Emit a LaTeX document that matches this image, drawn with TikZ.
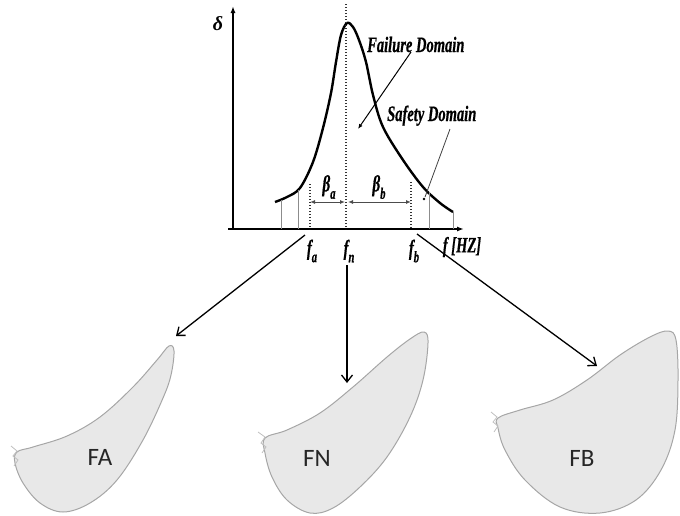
\documentclass[tikz,border=0pt]{standalone}
\usepackage{fontspec}
\setmainfont{Liberation Serif}
\newfontfamily\condserif[FakeStretch=0.66,BoldItalicFeatures={FakeBold=0.6}]{Liberation Serif}
\newfontfamily\bladefont{Carlito}
\usetikzlibrary{arrows.meta}
\newcommand\lowsub[1]{\raisebox{-0.32em}{\fontsize{16}{16}\selectfont #1}}

\begin{document}
\begin{tikzpicture}[x=1pt,y=-1pt,
  axis/.style={line width=2pt,-{Latex[length=7pt,width=5pt]}},
  bell/.style={line width=2.4pt,line join=round},
  guide/.style={black!45,line width=1pt},
  dotline/.style={line width=1.3pt,black!80,dash pattern=on 1.3pt off 1.7pt},
  span/.style={line width=1pt,black!70,{Latex[length=5pt,width=4pt]}-{Latex[length=5pt,width=4pt]}},
  pointer/.style={line width=1pt,-{Latex[length=5pt,width=4pt]}},
  flow/.style={line width=1.3pt,-{Straight Barb[length=7pt,width=11pt]}},
  blade/.style={fill=black!9,draw=black!35,line width=1pt},
  nose/.style={black!25,line width=0.8pt},
  lab/.style={font=\condserif\bfseries\itshape\fontsize{22}{22}\selectfont,inner sep=0pt},
  bladelab/.style={font=\bladefont\fontsize{25}{25}\selectfont,inner sep=0pt,text=black!85}
]
\useasboundingbox (0,0) rectangle (680,515);

% ---------------- axes ----------------
\coordinate (origin) at (233,229);
\coordinate (xstart) at (228,229);
\coordinate (xend) at (464,229);
\coordinate (ytop) at (233,6);
\draw[axis] (xstart) -- (xend);
\draw[axis] (origin) -- (ytop);
\node[font=\itshape\bfseries\fontsize{20}{20}\selectfont,inner sep=0pt] (delta) at (218,24) {δ};

% ---------------- response curve ----------------
\draw[bell] plot[smooth,tension=0.55] coordinates {
  (275,202) (287,197) (300,188) (313,162) (323,128) (331,93) (336,62)
  (341,35) (347,23) (353,27) (359,40) (366,62) (373,95) (383,127)
  (403,160) (423,187) (440,203) (453,212)};

% vertical guides under the curve ends
\draw[guide] (281,200) -- (281,229);
\draw[guide] (298,190) -- (298,229);
\draw[guide] (429,192) -- (429,229);
\draw[guide] (453,212) -- (453,229);

% frequency markers
\coordinate (fa-top) at (310,184);
\coordinate (fa-axis) at (310,229);
\coordinate (fn-top) at (346,4);
\coordinate (fn-axis) at (346,229);
\coordinate (fb-top) at (411,182);
\coordinate (fb-axis) at (411,229);
\draw[dotline] (fa-top) -- (fa-axis);
\draw[dotline] (fn-top) -- (fn-axis);
\draw[dotline] (fb-top) -- (fb-axis);

% spans between the markers
\coordinate (ba-l) at (310,202);
\coordinate (ba-r) at (345,202);
\coordinate (bb-l) at (348,202);
\coordinate (bb-r) at (411,202);
\draw[span] (ba-l) -- (ba-r);
\draw[span] (bb-l) -- (bb-r);
\node[lab,font=\condserif\bfseries\itshape\fontsize{23}{23}\selectfont] (beta-a) at (329,187) {β\lowsub{a}};
\node[lab,font=\condserif\bfseries\itshape\fontsize{23}{23}\selectfont] (beta-b) at (379,187) {β\lowsub{b}};

% axis labels
\node[lab] (fa) at (312,251) {f\lowsub{a}};
\node[lab] (fn) at (349,251) {f\lowsub{n}};
\node[lab] (fb) at (414,251) {f\lowsub{b}};
\node[lab] (fhz) at (462,247) {f [HZ]};

% domain annotations
\node[lab,anchor=base west] (failure) at (367,52) {Failure Domain};
\node[lab,anchor=base west] (safety) at (387,121) {Safety Domain};
\coordinate (fail-from) at (411,52);
\coordinate (fail-to) at (358,129);
\draw[pointer] (fail-from) -- (fail-to);
\coordinate (safe-from) at (450,129);
\coordinate (safe-to) at (425,197);
\draw[line width=0.8pt,black!75] (safe-from) -- (safe-to);
\fill (424,199) circle (1.3pt);

% ---------------- blade sections ----------------
\draw[blade] plot[smooth cycle,tension=0.6] coordinates {
  (17,452) (33,447) (67,436) (100,417) (133,387) (157,360) (169,346)
  (174,351) (171,375) (163,398) (143,440) (117,480) (90,503) (63,512)
  (40,503) (23,483) (15,463)};
\draw[nose] (11,446) -- (17,451) -- (13,456) -- (18,460) -- (14,466);
\node[bladelab] (FA) at (100,457) {FA};

\draw[blade] plot[smooth cycle,tension=0.6] coordinates {
  (265,438) (287,430) (320,413) (353,387) (387,357) (410,339) (424,332)
  (428,343) (423,380) (410,417) (387,457) (360,487) (333,508) (310,513)
  (287,500) (272,477) (265,453)};
\draw[nose] (258,432) -- (265,437) -- (261,443) -- (266,447) -- (262,453);
\node[bladelab] (FN) at (317,458) {FN};

\draw[blade] plot[smooth cycle,tension=0.6] coordinates {
  (498,418) (520,410) (553,400) (587,380) (620,355) (650,337) (668,331)
  (676,340) (678,380) (675,430) (661,470) (636,500) (600,513) (560,507)
  (525,480) (505,450) (498,428)};
\draw[nose] (491,412) -- (497,417) -- (493,422) -- (498,426) -- (494,432);
\node[bladelab] (FB) at (582,458) {FB};

% ---------------- links from the markers to the sections ----------------
\coordinate (fa-out) at (305,235);
\coordinate (fa-in) at (176,336);
\coordinate (fn-out) at (347,265);
\coordinate (fn-in) at (347,383);
\coordinate (fb-out) at (417,234);
\coordinate (fb-in) at (597,366);
\draw[flow] (fa-out) -- (fa-in);
\draw[flow] (fn-out) -- (fn-in);
\draw[flow] (fb-out) -- (fb-in);
\end{tikzpicture}
\end{document}
